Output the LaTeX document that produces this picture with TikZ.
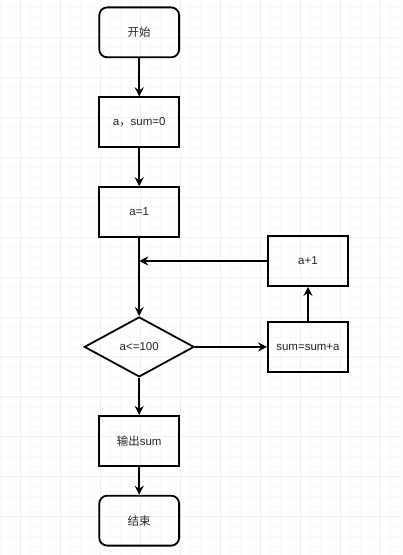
\documentclass[tikz,border=0pt]{standalone}
\usepackage{fontspec}
\setmainfont{Liberation Sans}
\newfontfamily\cjk{Noto Sans CJK SC}
\usepackage{tikz}
\usetikzlibrary{shapes.geometric,arrows.meta}

\begin{document}
\begin{tikzpicture}[x=1pt,y=-1pt,
    every node/.style={font=\fontsize{11.5}{13}\selectfont,text=black!85},
    flowbox/.style={draw=black,line width=1.8pt,minimum width=80pt,minimum height=50pt,inner sep=0pt},
    termbox/.style={flowbox,rounded corners=8pt},
    testbox/.style={draw=black,line width=1.8pt,diamond,aspect=1.83,minimum width=110pt,minimum height=60pt,inner sep=0pt},
    flow/.style={line width=1.8pt,-{Stealth[length=9pt,width=9pt,inset=3pt]}}]
  % grid background
  \fill[white] (0,0) rectangle (402,555);
  \foreach \gx in {0,10,...,400} \draw[gray!5,line width=0.6pt] (\gx,0) -- (\gx,555);
  \foreach \gy in {7,17,...,547} \draw[gray!5,line width=0.6pt] (0,\gy) -- (402,\gy);
  \foreach \gx in {20,60,...,380} \draw[gray!11,line width=0.8pt] (\gx,0) -- (\gx,555);
  \foreach \gy in {37,77,...,517} \draw[gray!11,line width=0.8pt] (0,\gy) -- (402,\gy);
  \useasboundingbox (0,0) rectangle (402,555);

  \node[termbox] (start) at (139,32) {\cjk 开始};
  \node[flowbox] (init)  at (139,122) {a{\cjk ，}sum=0};
  \node[flowbox] (seta)  at (139,212) {a=1};
  \node[testbox] (cond)  at (139,347) {a<=100};
  \node[flowbox] (print) at (139,441) {{\cjk 输出}sum};
  \node[termbox] (stop)  at (139,521) {\cjk 结束};
  \node[flowbox] (inc)   at (308,261) {a+1};
  \node[flowbox] (acc)   at (308,347) {sum=sum+a};
  \coordinate (join) at (seta.south |- inc.west);

  \draw[flow] (start) -- (init);
  \draw[flow] (init) -- (seta);
  \draw[flow] (seta) -- (cond);
  \draw[flow] (cond) -- (acc);
  \draw[flow] (acc) -- (inc);
  \draw[flow] (inc) -- (join);
  \draw[flow] (cond) -- (print);
  \draw[flow] (print) -- (stop);
\end{tikzpicture}
\end{document}
